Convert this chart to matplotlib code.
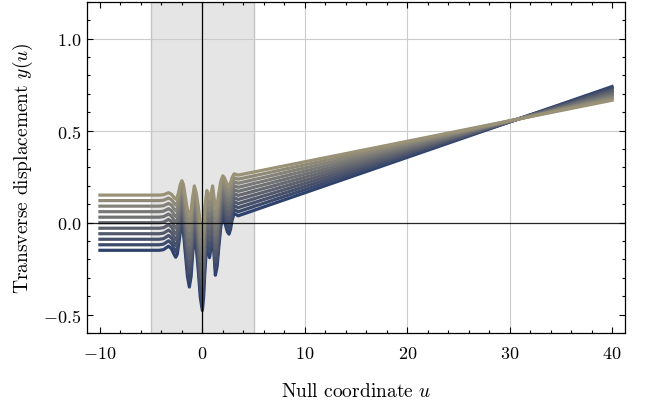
import numpy as np
import matplotlib
matplotlib.use("Agg")
import matplotlib.pyplot as plt

plt.rcParams["font.family"] = "serif"
plt.rcParams["font.serif"] = ["cmr10"]
plt.rcParams["mathtext.fontset"] = "cm"
plt.rcParams["axes.formatter.use_mathtext"] = True
plt.rcParams["font.size"] = 14

# starting transverse positions of the 11 geodesics (read at u = -10)
y_start = [-0.15, -0.12, -0.09, -0.06, -0.03, 0.0, 0.03, 0.06, 0.09, 0.12, 0.15]

# point where all geodesics meet after the pulse
focus_y = 0.563

# shared profile phi(u): y(u) = focus_y + (y0 - focus_y) * phi(u)
u_knots = [-10.0, -4.2, -3.8, -3.6, -3.3, -3.0, -2.8, -2.6, -2.45, -2.3, -2.15, -2.0,
           -1.85, -1.65, -1.45, -1.27, -1.1, -0.95, -0.78, -0.6, -0.4, -0.2, 0.0,
           0.12, 0.25, 0.45, 0.58, 0.7, 0.85, 1.0, 1.15, 1.27, 1.45, 1.6, 1.8, 2.0,
           2.15, 2.3, 2.45, 2.6, 2.75, 2.9, 3.1, 3.3, 3.5, 40.0]
phi_knots = [1.0, 1.0, 0.995, 0.985, 0.968, 0.99, 1.025, 1.053, 1.03, 0.95, 0.86, 0.811,
             0.86, 1.03, 1.2, 1.28, 1.2, 1.03, 0.879, 0.97, 1.15, 1.36, 1.459,
             1.36, 1.15, 0.94, 0.99, 1.056, 0.98, 0.879, 1.04, 1.19, 1.12, 0.98, 0.82, 0.746,
             0.77, 0.82, 0.86, 0.877, 0.84, 0.77, 0.72, 0.728, 0.737, -0.248]

u = np.array(u_knots)
phi = np.array(phi_knots)

fig = plt.figure(figsize=(6.55, 4.14), dpi=100)
ax = fig.add_axes([0.133, 0.193, 0.821, 0.800])

ax.axvspan(-5, 5, facecolor="#e5e5e5", edgecolor="#c4c4c4", lw=1.0, zorder=0)
for gx in [10, 20, 30]:
    ax.axvline(gx, color="#cccccc", lw=0.8, zorder=0.5)
for gy in [0.5, 1.0]:
    ax.axhline(gy, color="#cccccc", lw=0.8, zorder=0.5)

cmap = plt.get_cmap("cividis")
cols = cmap(np.linspace(0.18, 0.62, len(y_start)))
for y0, c in zip(y_start, cols):
    y = focus_y + (y0 - focus_y) * phi
    ax.plot(u, y, color=c, lw=2.3, solid_joinstyle="round", zorder=2)

ax.axvline(0, color="black", lw=0.9, zorder=3)
ax.axhline(0, color="black", lw=0.9, alpha=0.85, zorder=3)

ax.set_xlim(-11.25, 41.25)
ax.set_ylim(-0.6, 1.2)
ax.set_xticks([-10, 0, 10, 20, 30, 40])
ax.set_xticks(np.arange(-10, 41, 2), minor=True)
ax.set_yticks([-0.5, 0.0, 0.5, 1.0])
ax.set_yticks(np.arange(-0.6, 1.21, 0.1), minor=True)
ax.tick_params(which="both", direction="in", top=True, right=True, width=0.8)
ax.tick_params(which="major", length=4, labelsize=13)
ax.tick_params(axis="x", which="major", pad=8.5)
ax.tick_params(axis="y", which="major", pad=4)
ax.tick_params(which="minor", length=2)
for s in ax.spines.values():
    s.set_linewidth(0.9)

ax.set_xlabel("Null coordinate $u$", labelpad=15)
ax.set_ylabel("Transverse displacement $y(u)$", labelpad=6)

fig.savefig("out.png", dpi=100)
